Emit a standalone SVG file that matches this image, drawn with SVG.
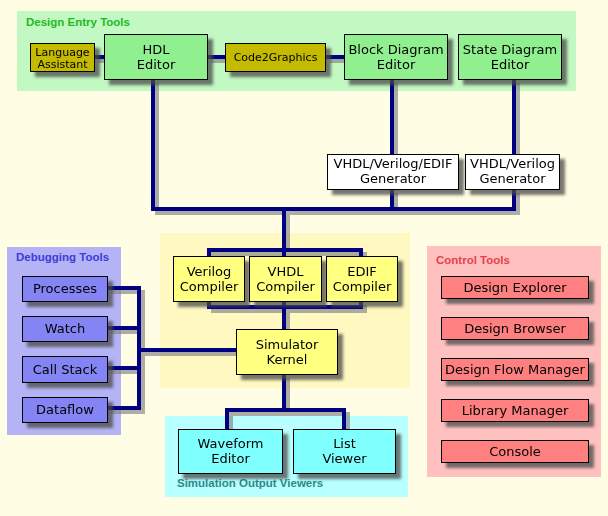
<svg xmlns="http://www.w3.org/2000/svg" width="608" height="516" viewBox="0 0 608 516">
<defs>
<filter id="sh" x="-10%" y="-10%" width="130%" height="140%">
<feGaussianBlur in="SourceAlpha" stdDeviation="1.5"/>
<feOffset dx="5" dy="5" result="o"/>
<feFlood flood-color="#4a4a4a" flood-opacity="0.75"/>
<feComposite in2="o" operator="in"/>
<feMerge><feMergeNode/><feMergeNode in="SourceGraphic"/></feMerge>
</filter>
<filter id="lsh" x="-10%" y="-10%" width="130%" height="130%">
<feOffset in="SourceAlpha" dx="4" dy="4" result="o"/>
<feGaussianBlur in="o" stdDeviation="0.6" result="b"/>
<feFlood flood-color="#8a8a8a" flood-opacity="0.7"/>
<feComposite in2="b" operator="in"/>
<feMerge><feMergeNode/><feMergeNode in="SourceGraphic"/></feMerge>
</filter>
</defs>
<style>
.box{stroke:#000;stroke-width:1}
.t{font-family:"DejaVu Sans",Verdana,sans-serif;font-size:13px;fill:#000;text-anchor:middle}
.ts{font-family:"DejaVu Sans",Verdana,sans-serif;font-size:11px;fill:#000;text-anchor:middle}
.gt{font-family:"Liberation Sans",Arial,sans-serif;font-size:11.5px;font-weight:bold}
.c{fill:none;stroke:#000080;stroke-width:4;stroke-linejoin:miter;stroke-linecap:butt}
.g{fill:#90F090}
.o{fill:#C4BA00}
.w{fill:#FFFFFF}
.y{fill:#FFFF80}
.b{fill:#8484F4}
.r{fill:#FF8080}
.cy{fill:#80FFFF}
</style>
<rect x="0" y="0" width="608" height="516" fill="#FFFDE3"/>

<g id="groups">
<rect x="17" y="11" width="559" height="80" fill="#C2F8C2"/>
<rect x="160" y="233" width="250" height="155" fill="#FFF8C0"/>
<rect x="7" y="247" width="114" height="188" fill="#B3B3F5"/>
<rect x="427" y="246" width="174" height="231" fill="#FFC0C0"/>
<rect x="165" y="416" width="243" height="81" fill="#B8FFFF"/>
<text class="gt" x="26" y="26" fill="#22B822">Design Entry Tools</text>
<text class="gt" x="16" y="261" fill="#3C3CD8">Debugging Tools</text>
<text class="gt" x="436" y="264" fill="#E8404A">Control Tools</text>
<text class="gt" x="177" y="487" fill="#2A8A8A">Simulation Output Viewers</text>
</g>

<g id="connectors" filter="url(#lsh)">
<path class="c" d="M94,57 H104 M207,57 H225 M326,57 H344"/>
<path class="c" d="M153,79 V209 H514 V189 M514,79 V154 M392,79 V154 M392,189 V209"/>
<path class="c" d="M284,209 V256 M209,256 V250 H361 V256"/>
<path class="c" d="M209,301 V307 H361 V301 M284,301 V329"/>
<path class="c" d="M236,350 H139 M107,288 H139 V408 H107 M107,328 H139 M107,368 H139"/>
<path class="c" d="M284,374 V410 M227,429 V410 H344 V429"/>
</g>

<g id="language-assistant" filter="url(#sh)"><rect class="box o" x="30.5" y="43.5" width="64" height="28"/><text class="ts" x="62.5" y="56">Language</text><text class="ts" x="62.5" y="68">Assistant</text></g>
<g id="hdl-editor" filter="url(#sh)"><rect class="box g" x="104.5" y="34.5" width="103" height="45"/><text class="t" x="156" y="54">HDL</text><text class="t" x="156" y="69">Editor</text></g>
<g id="code2graphics" filter="url(#sh)"><rect class="box o" x="225.5" y="43.5" width="100" height="28"/><text class="ts" x="275.5" y="61">Code2Graphics</text></g>
<g id="block-diagram-editor" filter="url(#sh)"><rect class="box g" x="344.5" y="34.5" width="103" height="45"/><text class="t" x="396" y="54">Block Diagram</text><text class="t" x="396" y="69">Editor</text></g>
<g id="state-diagram-editor" filter="url(#sh)"><rect class="box g" x="458.5" y="34.5" width="103" height="45"/><text class="t" x="510" y="54">State Diagram</text><text class="t" x="510" y="69">Editor</text></g>

<g id="vhdl-verilog-edif-generator" filter="url(#sh)"><rect class="box w" x="327.5" y="154.5" width="131" height="35"/><text class="t" x="393" y="168">VHDL/Verilog/EDIF</text><text class="t" x="393" y="183">Generator</text></g>
<g id="vhdl-verilog-generator" filter="url(#sh)"><rect class="box w" x="465.5" y="154.5" width="94" height="35"/><text class="t" x="512.5" y="168">VHDL/Verilog</text><text class="t" x="512.5" y="183">Generator</text></g>

<g id="verilog-compiler" filter="url(#sh)"><rect class="box y" x="173.5" y="256.5" width="71" height="45"/><text class="t" x="209" y="275.5">Verilog</text><text class="t" x="209" y="290.5">Compiler</text></g>
<g id="vhdl-compiler" filter="url(#sh)"><rect class="box y" x="249.5" y="256.5" width="72" height="45"/><text class="t" x="285.5" y="275.5">VHDL</text><text class="t" x="285.5" y="290.5">Compiler</text></g>
<g id="edif-compiler" filter="url(#sh)"><rect class="box y" x="326.5" y="256.5" width="71" height="45"/><text class="t" x="362" y="275.5">EDIF</text><text class="t" x="362" y="290.5">Compiler</text></g>
<g id="simulator-kernel" filter="url(#sh)"><rect class="box y" x="236.5" y="329.5" width="101" height="45"/><text class="t" x="287" y="349">Simulator</text><text class="t" x="287" y="364">Kernel</text></g>

<g id="processes" filter="url(#sh)"><rect class="box b" x="22.5" y="276.5" width="85" height="25"/><text class="t" x="65" y="293">Processes</text></g>
<g id="watch" filter="url(#sh)"><rect class="box b" x="22.5" y="316.5" width="85" height="25"/><text class="t" x="65" y="333">Watch</text></g>
<g id="call-stack" filter="url(#sh)"><rect class="box b" x="22.5" y="356.5" width="85" height="26"/><text class="t" x="65" y="374">Call Stack</text></g>
<g id="dataflow" filter="url(#sh)"><rect class="box b" x="22.5" y="397.5" width="85" height="25"/><text class="t" x="65" y="414">Dataflow</text></g>

<g id="waveform-editor" filter="url(#sh)"><rect class="box cy" x="178.5" y="429.5" width="104" height="44"/><text class="t" x="230.5" y="448">Waveform</text><text class="t" x="230.5" y="463">Editor</text></g>
<g id="list-viewer" filter="url(#sh)"><rect class="box cy" x="293.5" y="429.5" width="102" height="44"/><text class="t" x="344.5" y="448">List</text><text class="t" x="344.5" y="463">Viewer</text></g>

<g id="design-explorer" filter="url(#sh)"><rect class="box r" x="441.5" y="276.5" width="147" height="22"/><text class="t" x="515" y="292">Design Explorer</text></g>
<g id="design-browser" filter="url(#sh)"><rect class="box r" x="441.5" y="317.5" width="147" height="22"/><text class="t" x="515" y="333">Design Browser</text></g>
<g id="design-flow-manager" filter="url(#sh)"><rect class="box r" x="441.5" y="358.5" width="147" height="22"/><text class="t" x="515" y="374">Design Flow Manager</text></g>
<g id="library-manager" filter="url(#sh)"><rect class="box r" x="441.5" y="399.5" width="147" height="22"/><text class="t" x="515" y="415">Library Manager</text></g>
<g id="console" filter="url(#sh)"><rect class="box r" x="441.5" y="440.5" width="147" height="22"/><text class="t" x="515" y="456">Console</text></g>
</svg>
